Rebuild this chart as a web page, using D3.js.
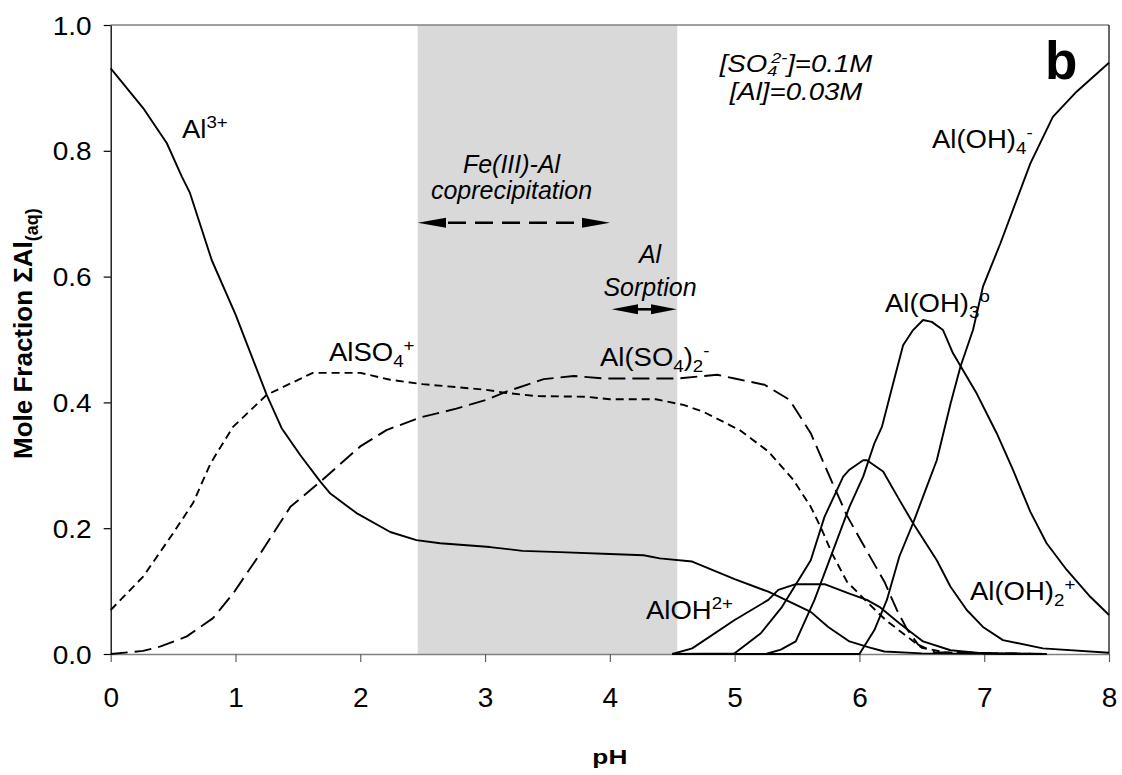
<!DOCTYPE html>
<html><head><meta charset="utf-8">
<script src="https://cdn.jsdelivr.net/npm/d3@7"></script>
<style>
body{margin:0;background:#fff}
svg{display:block}
text{font-family:"Liberation Sans",Arial,Helvetica,sans-serif;fill:#000}
</style>
</head><body>
<svg id="chart" width="1122" height="775"></svg>
<script>
// ---------- data ----------
const xTicks = [0,1,2,3,4,5,6,7,8];
const yTicks = [0,0.2,0.4,0.6,0.8,1.0];
const shadedRange = [2.46, 4.54];

const al3 = [[0,0.931],[0.26,0.868],[0.45,0.812],[0.57,0.759],[0.635,0.733],[0.81,0.626],[1.0,0.54],[1.25,0.412],[1.37,0.359],[1.52,0.316],[1.68,0.274],[1.76,0.255],[1.97,0.224],[2.24,0.194],[2.45,0.181],[2.64,0.176],[3.04,0.17],[3.3,0.164],[3.6,0.162],[4.0,0.159],[4.27,0.157],[4.4,0.152],[4.66,0.147],[5.0,0.119],[5.27,0.099],[5.61,0.067],[5.75,0.043],[5.92,0.02],[6.07,0.011],[6.2,0.004],[6.5,0.001],[7.5,0]];
const alSO4 = [[0,0.07],[0.26,0.123],[0.5,0.192],[0.66,0.24],[0.8,0.303],[0.98,0.361],[1.25,0.412],[1.62,0.447],[2.0,0.447],[2.24,0.436],[2.5,0.429],[3.01,0.42],[3.17,0.415],[3.41,0.41],[3.81,0.409],[4.0,0.405],[4.37,0.405],[4.59,0.396],[4.75,0.385],[4.96,0.364],[5.04,0.356],[5.27,0.322],[5.47,0.277],[5.61,0.234],[5.7,0.197],[5.78,0.16],[5.9,0.115],[6.06,0.083],[6.21,0.054],[6.38,0.028],[6.5,0.01],[6.7,0.002],[7.5,0]];
const alSO4_2 = [[0,0],[0.26,0.005],[0.4,0.012],[0.61,0.028],[0.82,0.057],[0.98,0.096],[1.2,0.16],[1.44,0.234],[1.68,0.274],[2.0,0.33],[2.21,0.356],[2.48,0.376],[2.77,0.39],[3.01,0.404],[3.17,0.417],[3.47,0.437],[3.71,0.442],[3.95,0.438],[4.54,0.438],[4.86,0.444],[5.0,0.438],[5.24,0.428],[5.44,0.404],[5.61,0.351],[5.75,0.287],[5.9,0.22],[6.07,0.16],[6.2,0.115],[6.3,0.07],[6.38,0.04],[6.47,0.015],[6.6,0.003],[7.5,0]];
const alOH = [[4.5,0],[4.66,0.009],[5.0,0.054],[5.27,0.086],[5.35,0.102],[5.49,0.111],[5.72,0.111],[5.92,0.096],[6.06,0.086],[6.16,0.075],[6.32,0.049],[6.51,0.02],[6.73,0.006],[7.0,0.001],[7.5,0]];
const alOH2 = [[4.5,0],[5.0,0.001],[5.21,0.033],[5.38,0.075],[5.61,0.149],[5.72,0.218],[5.87,0.282],[5.92,0.293],[6.03,0.308],[6.06,0.308],[6.19,0.29],[6.32,0.245],[6.43,0.208],[6.62,0.149],[6.73,0.107],[6.86,0.07],[6.99,0.043],[7.15,0.022],[7.47,0.009],[8.0,0.002]];
const alOH3 = [[4.5,0],[5.25,0],[5.37,0.007],[5.49,0.02],[5.64,0.086],[5.78,0.16],[5.92,0.234],[6.03,0.282],[6.12,0.335],[6.18,0.361],[6.27,0.43],[6.35,0.491],[6.43,0.515],[6.51,0.531],[6.58,0.528],[6.67,0.515],[6.75,0.478],[6.94,0.414],[7.1,0.351],[7.23,0.293],[7.37,0.226],[7.5,0.176],[7.66,0.134],[7.85,0.091],[8.0,0.062]];
const alOH4 = [[4.5,0],[6.0,0],[6.12,0.038],[6.22,0.086],[6.32,0.155],[6.43,0.208],[6.54,0.266],[6.62,0.308],[6.73,0.398],[6.81,0.457],[6.91,0.515],[6.99,0.584],[7.13,0.653],[7.26,0.722],[7.37,0.78],[7.55,0.854],[7.74,0.894],[8.0,0.94]];

// ---------- setup ----------
const svg = d3.select("#chart");
const x = d3.scaleLinear().domain([0,8]).range([110.7,1109]);
const y = d3.scaleLinear().domain([0,1]).range([654,25]);
const FONT = '"Liberation Sans",Arial,sans-serif';

// shaded region
svg.append("rect")
  .attr("x", x(shadedRange[0])).attr("y", y(1))
  .attr("width", x(shadedRange[1]) - x(shadedRange[0]))
  .attr("height", y(0) - y(1))
  .attr("fill", "#d9d9d9");

// frame (top gray, right black)
svg.append("line").attr("x1", x(0)).attr("x2", x(8)).attr("y1", y(1)).attr("y2", y(1))
  .attr("stroke", "#808080").attr("stroke-width", 1.5);
svg.append("line").attr("x1", x(8)).attr("x2", x(8)).attr("y1", y(1)).attr("y2", y(0))
  .attr("stroke", "#000").attr("stroke-width", 1.2);

// x axis
const xAxis = svg.append("g").attr("transform", `translate(0,${y(0)})`)
  .call(d3.axisBottom(x).tickValues(xTicks).tickSize(8).tickSizeOuter(0).tickFormat(d3.format("d")));
xAxis.select(".domain").attr("stroke", "#808080").attr("stroke-width", 1.5);
xAxis.selectAll(".tick line").attr("stroke", "#606060").attr("stroke-width", 1.2);
xAxis.selectAll(".tick text").attr("font-size", 28).attr("dy", 0)
  .attr("y", 52.5).attr("font-family", FONT).attr("fill","#000");

// y axis
const yAxis = svg.append("g").attr("transform", `translate(${x(0)},0)`)
  .call(d3.axisLeft(y).tickValues(yTicks).tickSize(7).tickSizeOuter(0).tickFormat(d3.format(".1f")));
yAxis.select(".domain").attr("stroke", "#000").attr("stroke-width", 1.3);
yAxis.selectAll(".tick line").attr("stroke", "#000").attr("stroke-width", 1.2);
yAxis.selectAll(".tick text").attr("font-size", 25).attr("x", -17).attr("dy", "0.36em")
  .attr("transform", "scale(1.12,1)")
  .attr("font-family", FONT).attr("fill","#000");

// ---------- curves ----------
const line = d3.line().x(d => x(d[0])).y(d => y(d[1]));
const series = [
  {data: al3, dash: null},
  {data: alSO4, dash: "8,5"},
  {data: alSO4_2, dash: "17,7"},
  {data: alOH, dash: null},
  {data: alOH2, dash: null},
  {data: alOH3, dash: null},
  {data: alOH4, dash: null}
];
svg.append("g").selectAll("path").data(series).join("path")
  .attr("d", d => line(d.data))
  .attr("fill", "none").attr("stroke", "#000").attr("stroke-width", 1.9)
  .attr("stroke-linejoin", "round")
  .attr("stroke-dasharray", d => d.dash);

// ---------- labels ----------
function label(px, py, parts, size, sx) {
  const t = svg.append("text").attr("transform", `translate(${px},${py}) scale(${sx},1)`)
    .attr("font-size", size);
  let shift = 0;
  parts.forEach(p => {
    const ts = t.append("tspan").text(p.t);
    const target = p.s === "sub" ? 6 : p.s === "sup" ? -10 : 0;
    const dy = target - shift;
    shift = target;
    if (dy) ts.attr("dy", dy);
    if (p.dx) ts.attr("dx", p.dx);
    if (p.s) ts.attr("font-size", size * 0.68);
  });
  return t;
}
const L = 25, SX = 1.1;
label(182, 138, [{t:"Al"},{t:"3+",s:"sup"}], L, SX);
label(329, 361, [{t:"AlSO"},{t:"4",s:"sub"},{t:"+",s:"sup"}], L, SX);
label(600, 366, [{t:"Al(SO"},{t:"4",s:"sub"},{t:")"},{t:"2",s:"sub"},{t:"-",s:"sup"}], L, SX);
label(646, 619, [{t:"AlOH"},{t:"2+",s:"sup"}], L, SX);
label(970, 600, [{t:"Al(OH)"},{t:"2",s:"sub"},{t:"+",s:"sup"}], L, SX);
label(885, 312, [{t:"Al(OH)"},{t:"3",s:"sub"},{t:"o",s:"sup"}], L, SX);
label(932, 148, [{t:"Al(OH)"},{t:"4",s:"sub"},{t:"-",s:"sup"}], L, SX);

// conditions text (italic)
const cond = svg.append("g").attr("transform", "translate(796,0) scale(1.2,1)");
const c1 = cond.append("text").attr("x", 0).attr("y", 72).attr("font-size", 23)
  .attr("font-style", "italic").attr("text-anchor", "middle");
c1.append("tspan").text("[SO");
c1.append("tspan").text("4").attr("font-size", 15).attr("dy", 4);
c1.append("tspan").text("2-").attr("font-size", 15).attr("dy", -13).attr("dx", -5);
c1.append("tspan").text("]=0.1M").attr("dy", 9);
cond.append("text").attr("x", 0).attr("y", 100).attr("font-size", 23)
  .attr("font-style", "italic").attr("text-anchor", "middle").text("[Al]=0.03M");

// panel letter
svg.append("text").attr("x", 1045).attr("y", 79).attr("font-size", 53)
  .attr("font-weight", "bold").text("b");

// Fe(III)-Al annotation
svg.append("text").attr("x", 511.5).attr("y", 173).attr("font-size", 25)
  .attr("font-style", "italic").attr("text-anchor", "middle").text("Fe(III)-Al");
svg.append("text").attr("x", 511.5).attr("y", 199).attr("font-size", 25)
  .attr("font-style", "italic").attr("text-anchor", "middle").text("coprecipitation");

function head(tipX, baseX, cy, hh) {
  svg.append("path")
    .attr("d", `M${tipX},${cy} L${baseX},${cy-hh} L${baseX},${cy+hh} Z`)
    .attr("fill", "#000");
}
const ay = 222.7;
svg.append("line").attr("x1", 442).attr("x2", 586).attr("y1", ay).attr("y2", ay)
  .attr("stroke", "#000").attr("stroke-width", 2.6).attr("stroke-dasharray", "18,9")
  .attr("stroke-dashoffset", -6);
head(417.7, 446, ay, 5);
head(610, 582, ay, 5);

// Al Sorption annotation
svg.append("text").attr("x", 650).attr("y", 263).attr("font-size", 25)
  .attr("font-style", "italic").attr("text-anchor", "middle").text("Al");
svg.append("text").attr("x", 650).attr("y", 296).attr("font-size", 25)
  .attr("font-style", "italic").attr("text-anchor", "middle").text("Sorption");
const sy = 309.3;
svg.append("line").attr("x1", 630).attr("x2", 660).attr("y1", sy).attr("y2", sy)
  .attr("stroke", "#000").attr("stroke-width", 2.6);
head(611.7, 638, sy, 5);
head(676.7, 651, sy, 5);

// axis titles
svg.append("text").attr("transform", `translate(${x(4)},764) scale(1.25,1)`).attr("font-size", 21)
  .attr("font-weight", "bold").attr("text-anchor", "middle").text("pH");
const yt = svg.append("text").attr("transform", "translate(32,459) rotate(-90)")
  .attr("font-size", 26).attr("font-weight", "bold");
yt.append("tspan").text("Mole Fraction \u03A3Al");
yt.append("tspan").text("(aq)").attr("font-size", 18).attr("dy", 6);
</script>
</body></html>
